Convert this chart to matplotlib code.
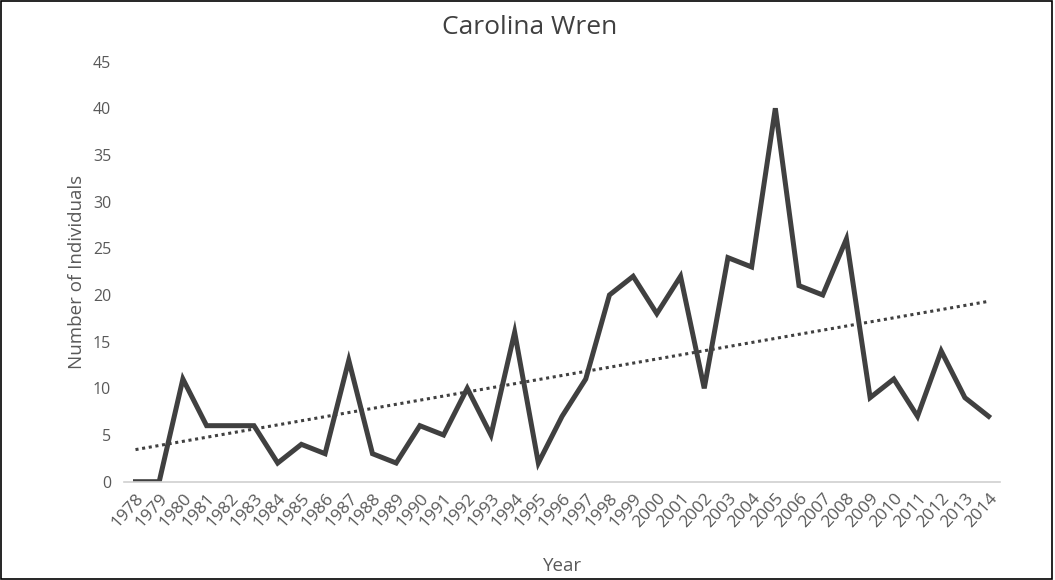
import matplotlib.pyplot as plt
import numpy as np
from matplotlib.patches import Rectangle

plt.rcParams['font.family'] = ['Open Sans', 'DejaVu Sans']

years = list(range(1978, 2015))
counts = [0, 0, 11, 6, 6, 6, 2, 4, 3, 13, 3, 2, 6, 5, 10, 5, 16, 2, 7, 11,
          20, 22, 18, 22, 10, 24, 23, 40, 21, 20, 26, 9, 11, 7, 14, 9, 7]

fig = plt.figure(figsize=(10.55, 5.8), dpi=100)
ax = fig.add_axes([0.1172, 0.1695, 0.8311, 0.7243])

# data line
ax.plot(years, counts, color='#404040', linewidth=3.6, solid_joinstyle='miter')

# linear trendline
slope, intercept = np.polyfit(years, counts, 1)
trend = [slope * y + intercept for y in years]
ax.plot(years, trend, color='#404040', linewidth=2.2, linestyle=(0, (1, 1.2)))

ax.set_xlim(1977.5, 2014.5)
ax.set_ylim(0, 45)
ax.set_yticks(range(0, 50, 5))
ax.set_xticks(years)
ax.set_xticklabels([str(y) for y in years], rotation=48, ha='right',
                   rotation_mode='anchor', fontsize=12.5, color='#595959')
ax.tick_params(axis='y', labelsize=11.5, labelcolor='#595959', length=0, pad=9)
ax.tick_params(axis='x', length=0, pad=6)

for s in ['top', 'right', 'left']:
    ax.spines[s].set_visible(False)
ax.spines['bottom'].set_color('#d0d0d0')
ax.spines['bottom'].set_linewidth(1.2)

ax.set_xlabel('Year', fontsize=13.5, color='#595959', labelpad=19)
ax.set_ylabel('Number of Individuals', fontsize=13.5, color='#595959', labelpad=5)
fig.text(0.502, 0.952, 'Carolina Wren', ha='center', va='center', fontsize=19, color='#404040')

# outer frame
fig.patches.append(Rectangle((0.001, 0.002), 0.996, 0.996, transform=fig.transFigure,
                             fill=False, edgecolor='black', linewidth=1.2))

fig.savefig('out.png', dpi=100)
